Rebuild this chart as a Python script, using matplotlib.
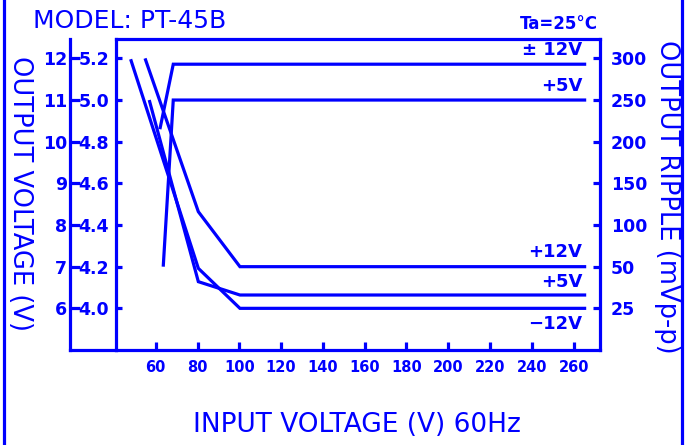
import numpy as np
import matplotlib
matplotlib.use("Agg")
import matplotlib.pyplot as plt
from matplotlib.lines import Line2D

BLUE = "#0000ff"

# ---------------- data ----------------
x_ticks = [60, 80, 100, 120, 140, 160, 180, 200, 220, 240, 260]
v5_ticks = [4.0, 4.2, 4.4, 4.6, 4.8, 5.0, 5.2]
v5_labels = ["4.0", "4.2", "4.4", "4.6", "4.8", "5.0", "5.2"]
v12_ticks = [6, 7, 8, 9, 10, 11, 12]
ripple_ticks = [25, 50, 100, 150, 200, 250, 300]

# output voltage curves
vin_out5 = [63.6, 68.4, 266]
out5 = [4.2, 5.0, 5.0]            # +5V output (V)
vin_out12 = [62.0, 68.4, 266]
out12 = [10.3, 11.86, 11.86]      # +-12V output (V)

# ripple curves (mVp-p)
vin_rip_m12 = [48.0, 80.4, 100.3, 266]
rip_m12 = [299, 49, 25, 25]
vin_rip_p12 = [54.9, 80.4, 100.3, 266]
rip_p12 = [300, 116, 50, 50]
vin_rip_p5 = [56.9, 80.4, 100.3, 266]
rip_p5 = [250, 41, 33, 33]

# ---------------- scale helpers ----------------
def v12_to_pos(v):
    return 4.0 + (np.asarray(v, float) - 6.0) / 5.0

def ripple_to_pos(r):
    return np.interp(r, ripple_ticks, v5_ticks)

# ---------------- figure ----------------
W, H = 687, 445
fig = plt.figure(figsize=(W / 100, H / 100), dpi=100)
fig.patch.set_facecolor("white")

L, R = 116 / W, 600 / W
B, T = (H - 350) / H, (H - 39) / H
YLIM = (3.80, 5.293)
LW = 2.3

ax2 = fig.add_axes([70 / W, B, (116 - 70) / W, T - B])
ax2.set_ylim(6 + (YLIM[0] - 4) * 5, 6 + (YLIM[1] - 4) * 5)
ax2.set_xlim(0, 1)
for s in ["top", "right"]:
    ax2.spines[s].set_visible(False)
for s in ["left", "bottom"]:
    ax2.spines[s].set_color(BLUE)
    ax2.spines[s].set_linewidth(LW)
ax2.set_xticks([])
ax2.set_yticks(v12_ticks)
ax2.set_yticklabels([str(v) for v in v12_ticks])
ax2.tick_params(axis="y", direction="in", length=7, width=LW, color=BLUE,
                labelcolor=BLUE, pad=2)
for t in ax2.get_yticklabels():
    t.set_fontsize(12.5)
    t.set_fontweight("bold")

ax = fig.add_axes([L, B, R - L, T - B])
ax.set_facecolor("none")
ax.set_xlim(41.0, 272.6)
ax.set_ylim(*YLIM)
for s in ax.spines.values():
    s.set_color(BLUE)
    s.set_linewidth(LW)
ax.set_xticks(x_ticks)
ax.set_xticklabels([str(v) for v in x_ticks])
ax.set_yticks(v5_ticks)
ax.set_yticklabels(v5_labels)
ax.tick_params(axis="x", direction="in", length=6, width=LW, color=BLUE,
               labelcolor=BLUE, pad=7)
ax.tick_params(axis="y", direction="in", length=4, width=LW, color=BLUE,
               labelcolor=BLUE, pad=5)
for t in ax.get_xticklabels():
    t.set_fontsize(10.5)
    t.set_fontweight("bold")
for t in ax.get_yticklabels():
    t.set_fontsize(12.5)
    t.set_fontweight("bold")

axr = ax.twinx()
axr.set_ylim(*YLIM)
for s in axr.spines.values():
    s.set_visible(False)
axr.set_yticks(ripple_to_pos(ripple_ticks))
axr.set_yticklabels([str(v) for v in ripple_ticks])
axr.tick_params(axis="y", direction="in", length=5, width=LW, color=BLUE,
                labelcolor=BLUE, pad=8)
for t in axr.get_yticklabels():
    t.set_fontsize(12.5)
    t.set_fontweight("bold")

kw = dict(color=BLUE, lw=LW, solid_joinstyle="miter", solid_capstyle="butt")
ax.plot(vin_out5, out5, **kw)
ax.plot(vin_out12, v12_to_pos(out12), **kw)
ax.plot(vin_rip_m12, ripple_to_pos(rip_m12), **kw)
ax.plot(vin_rip_p12, ripple_to_pos(rip_p12), **kw)
ax.plot(vin_rip_p5, ripple_to_pos(rip_p5), **kw)

lab_kw = dict(color=BLUE, fontsize=13, fontweight="bold", ha="right", va="center")
ax.text(264, 5.241, "\u00b1 12V", **lab_kw)
ax.text(264, 5.068, "+5V", **lab_kw)
ax.text(264, 4.270, "+12V", **lab_kw)
ax.text(264, 4.126, "+5V", **lab_kw)
ax.text(264, 3.925, "\u221212V", **lab_kw)

fig.text(33 / W, 1 - 21 / H, "MODEL: PT-45B", color=BLUE, fontsize=18,
         ha="left", va="center")
fig.text(598 / W, 1 - 24 / H, "Ta=25\u00b0C", color=BLUE, fontsize=12,
         fontweight="bold", ha="right", va="center")
fig.text(357 / W, 1 - 425 / H, "INPUT VOLTAGE (V) 60Hz", color=BLUE,
         fontsize=19, ha="center", va="center")
fig.text(20 / W, 1 - 193 / H, "OUTPUT VOLTAGE (V)", color=BLUE, fontsize=18.5,
         rotation=-90, ha="center", va="center")
fig.text(667 / W, 1 - 196.5 / H, "OUTPUT RIPPLE (mVp-p)", color=BLUE,
         fontsize=18.5, rotation=-90, ha="center", va="center")

for xp in (4 / W, 682 / W):
    fig.add_artist(Line2D([xp, xp], [0, 1], transform=fig.transFigure,
                          color=BLUE, lw=LW))

fig.savefig("out.png", dpi=100, facecolor="white")
